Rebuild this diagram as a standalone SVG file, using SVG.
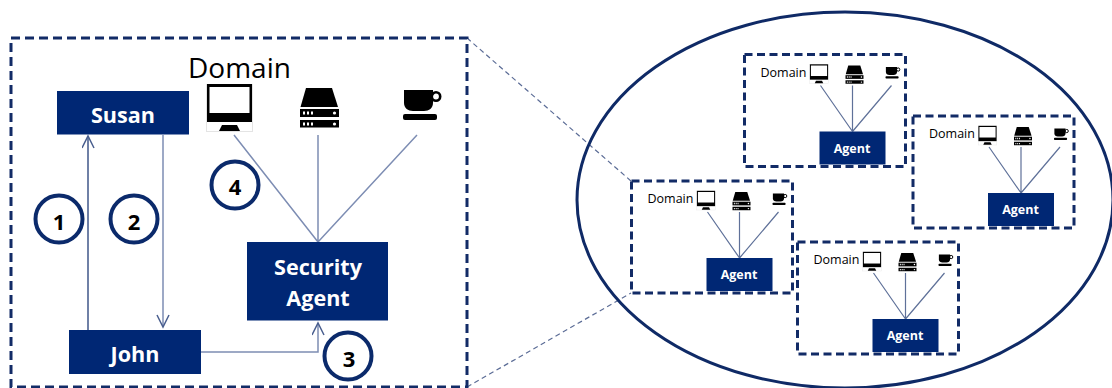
<svg xmlns="http://www.w3.org/2000/svg" width="1112" height="388" viewBox="0 0 1112 388">
<style>
.bx{fill:#002774}
.dash{fill:none;stroke:#122b66;stroke-width:3;stroke-dasharray:9 5}
.dashs{fill:none;stroke:#122b66;stroke-width:3;stroke-dasharray:8 4.5}
.ln{fill:none;stroke:#7d8db3;stroke-width:1.5}
.lnd{fill:none;stroke:#3f5688;stroke-width:1.5}
.lns{fill:none;stroke:#5f7199;stroke-width:1.2}
.lk{fill:none;stroke:#5b6c96;stroke-width:1.2;stroke-dasharray:5 3.5}
.ring{fill:#fff;stroke:#0b2a6b;stroke-width:4}
.t{font-family:"Open Sans","Noto Sans",sans-serif}
.w{fill:#fff;font-weight:700;text-anchor:middle}
.num{fill:#000;font-weight:700;font-size:22px;text-anchor:middle}
</style>
<defs>
<marker id="ah" markerWidth="16" markerHeight="14" refX="13" refY="6.5" orient="auto" markerUnits="userSpaceOnUse"><path d="M1 0.5L13 6.5L1 12.5" fill="none" stroke="#4a5f8f" stroke-width="1.5"/></marker>
<symbol id="mon" viewBox="0 0 47 48" overflow="visible">
<rect x="0.5" y="0.5" width="46" height="47" fill="#fff" stroke="#e4e4e4"/>
<rect x="1" y="0" width="45" height="38" fill="#000"/>
<rect x="3.5" y="3" width="40" height="26" fill="#fff"/>
<path d="M13 47L16 41H31L34 47Z" fill="#000"/>
</symbol>
<symbol id="srv" viewBox="0 0 39 39" overflow="visible">
<path d="M0.5 19L6 0H32L38 19Z" fill="#000"/>
<rect x="0" y="21" width="39" height="8" fill="#000"/>
<rect x="0" y="32" width="39" height="7.5" fill="#000"/>
<path d="M3 23.5h2v3h-2zM7 23.5h2v3h-2zM11 23.5h2v3h-2zM3 34.5h2v3h-2zM7 34.5h2v3h-2zM11 34.5h2v3h-2z" fill="#fff"/>
<circle cx="34.5" cy="25" r="1.6" fill="#fff"/><circle cx="34.5" cy="36" r="1.6" fill="#fff"/>
</symbol>
<symbol id="cup" viewBox="0 0 39 31" overflow="visible">
<path d="M1 0H30V13C30 18 26 21 21 21H10C5 21 1 18 1 13Z" fill="#000"/>
<circle cx="33" cy="6.5" r="4.2" fill="none" stroke="#000" stroke-width="2.6"/>
<rect x="0" y="24" width="34" height="6" rx="2" fill="#000"/>
</symbol>
</defs>
<rect width="1112" height="388" fill="#fff"/>
<g id="connectors">
<path class="lk" d="M467 38L631 181M467 387L631 293"/>
<path class="lnd" d="M88 330V136" marker-end="url(#ah)"/>
<path class="ln" d="M163 135V327" marker-end="url(#ah)"/>
<path class="ln" d="M201 352H318V323" marker-end="url(#ah)"/>
<path class="ln" d="M234 135L318 242M318 135V242M417 135L318 242"/>
</g>
<g id="cloud"><ellipse cx="845" cy="200" rx="268" ry="188" fill="none" stroke="#0f2a66" stroke-width="3"/></g>
<g id="domain-main">
<rect class="dash" x="11" y="38" width="456" height="349"/>
<text class="t" x="188" y="78" font-size="28" fill="#000">Domain</text>
<use href="#mon" x="206" y="84" width="47" height="48"/>
<use href="#srv" x="300" y="88" width="39" height="39"/>
<use href="#cup" x="403" y="90" width="39" height="31"/>
</g>
<g id="susan"><rect class="bx" x="57" y="91" width="132" height="43.500"/><text class="t w" x="123" y="123" font-size="21.600">Susan</text></g>
<g id="john"><rect class="bx" x="69" y="330" width="132" height="44"/><text class="t w" x="135" y="361.500" font-size="21.600">John</text></g>
<g id="security-agent"><rect class="bx" x="247" y="242" width="141" height="78.500"/><text class="t w" x="318" y="275" font-size="21.600">Security</text><text class="t w" x="318" y="306" font-size="21.600">Agent</text></g>
<g id="step-1"><circle class="ring" cx="59" cy="219" r="23.500"/><text class="t num" x="59" y="230">1</text></g>
<g id="step-2"><circle class="ring" cx="134" cy="219" r="23.500"/><text class="t num" x="134" y="230">2</text></g>
<g id="step-3"><circle class="ring" cx="348" cy="356" r="23.500"/><text class="t num" x="349" y="367">3</text></g>
<g id="step-4"><circle class="ring" cx="235" cy="185" r="23.500"/><text class="t num" x="235" y="195">4</text></g>
<defs>
<g id="mini">
<rect class="dashs" x="0" y="0" width="161" height="112"/>
<path class="lns" d="M76 31L108 77M108 31V77M147 31L108 77"/>
<use href="#mon" x="65" y="9" width="19" height="21"/>
<use href="#srv" x="101" y="11" width="18" height="18"/>
<use href="#cup" x="141" y="12" width="15" height="13"/>
<rect class="bx" x="75" y="77" width="66" height="33"/>
<text class="t" x="16" y="22" font-size="12.500" fill="#000">Domain</text>
<text class="t w" x="107.500" y="98" font-size="12.500">Agent</text>
</g>
</defs>
<g id="domain-a" transform="translate(744.5 54.5)"><use href="#mini"/></g>
<g id="domain-b" transform="translate(913 116)"><use href="#mini"/></g>
<g id="domain-c" transform="translate(631.5 181)"><use href="#mini"/></g>
<g id="domain-d" transform="translate(797.5 242)"><use href="#mini"/></g>
</svg>
